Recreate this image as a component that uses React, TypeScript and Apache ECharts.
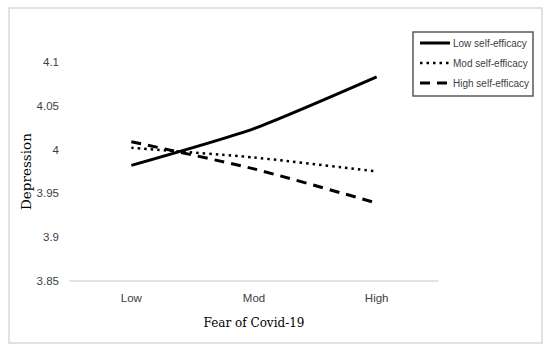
import React, { useEffect, useRef } from "react";
import * as echarts from "echarts";

const categories = ["Low", "Mod", "High"];
const lowSelfEfficacy = [3.982, 4.024, 4.083];
const modSelfEfficacy = [4.002, 3.991, 3.975];
const highSelfEfficacy = [4.009, 3.978, 3.939];
const seriesNames = ["Low self-efficacy", "Mod self-efficacy", "High self-efficacy"];
const xTitle = "Fear of Covid-19";
const yTitle = "Depression";

export default function App() {
  const ref = useRef<HTMLDivElement>(null);
  useEffect(() => {
    if (!ref.current) return;
    const chart = echarts.init(ref.current, null, { renderer: "svg" });
    const sans = "Liberation Sans";
    const serif = "DejaVu Serif";
    const lineTypes: any[] = ["solid", [2.5, 4], [10, 7]];
    const lineWidths = [3, 2.5, 3];
    const legendGraphics: any[] = [
      {
        type: "rect",
        shape: { x: 413, y: 32, width: 120, height: 64 },
        style: { fill: "#ffffff", stroke: "#595959", lineWidth: 1.5 },
        silent: true,
      },
    ];
    seriesNames.forEach((name, i) => {
      const y = 43 + i * 20;
      legendGraphics.push({
        type: "line",
        shape: { x1: 420, y1: y, x2: 450, y2: y },
        style: { stroke: "#000000", lineWidth: lineWidths[i], lineDash: lineTypes[i] === "solid" ? null : lineTypes[i] },
        silent: true,
      });
      legendGraphics.push({
        type: "text",
        x: 453,
        y,
        style: {
          text: name,
          font: `10px "${sans}"`,
          fill: "#404040",
          verticalAlign: "middle",
          align: "left",
        },
        silent: true,
      });
    });
    chart.setOption({
      animation: false,
      backgroundColor: "#ffffff",
      grid: { left: 70, right: 112, top: 62, bottom: 72 },
      graphic: [
        {
          type: "rect",
          shape: { x: 9, y: 8, width: 533, height: 335 },
          style: { fill: "none", stroke: "#d9d9d9", lineWidth: 1.5 },
          silent: true,
        },
        ...legendGraphics,
      ],
      xAxis: {
        type: "category",
        data: categories,
        boundaryGap: true,
        axisLine: { lineStyle: { color: "#d9d9d9", width: 1.5 } },
        axisTick: { show: false },
        axisLabel: { fontFamily: sans, fontSize: 11.5, color: "#404040", margin: 11 },
        name: xTitle,
        nameLocation: "middle",
        nameGap: 36,
        nameMoveOverlap: false,
        nameTextStyle: { fontFamily: serif, fontSize: 12, color: "#000000" },
      },
      yAxis: {
        type: "value",
        min: 3.85,
        max: 4.1,
        interval: 0.05,
        axisLine: { show: false },
        axisTick: { show: false },
        splitLine: { show: false },
        axisLabel: {
          fontFamily: sans,
          fontSize: 11.5,
          color: "#404040",
          margin: 11,
          formatter: (v: number) => String(+v.toFixed(2)),
        },
        name: yTitle,
        nameLocation: "middle",
        nameRotate: 90,
        nameGap: 37,
        nameMoveOverlap: false,
        nameTextStyle: { fontFamily: serif, fontSize: 13.5, color: "#000000" },
      },
      series: [lowSelfEfficacy, modSelfEfficacy, highSelfEfficacy].map((data, i) => ({
        name: seriesNames[i],
        type: "line",
        data,
        symbol: "none",
        smooth: 0.2,
        lineStyle: { color: "#000000", width: lineWidths[i], type: lineTypes[i] },
        itemStyle: { color: "#000000" },
      })),
    });
    return () => chart.dispose();
  }, []);
  return (
    <div
      ref={ref}
      style={{ position: "fixed", left: 0, top: 0, width: 550, height: 353, background: "#fff" }}
    />
  );
}
